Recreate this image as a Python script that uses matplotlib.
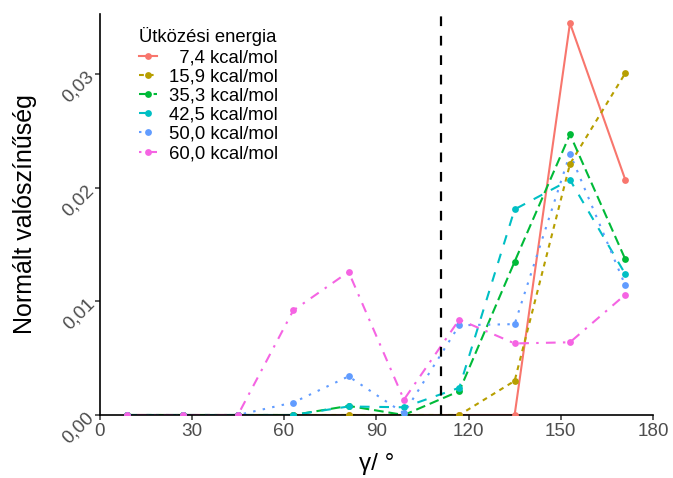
import matplotlib
matplotlib.use("Agg")
import matplotlib.pyplot as plt
from matplotlib.ticker import FixedLocator
from matplotlib.lines import Line2D

plt.rcParams['font.family'] = ['Liberation Sans', 'DejaVu Sans']

# Bin centres of the angle histogram (degrees)
angles = [9, 27, 45, 63, 81, 99, 117, 135, 153, 171]

# Normalised probability per collision energy
e_7_4 = [0, 0, 0, 0, 0, 0, 0, 0, 0.0345, 0.0207]
e_15_9 = [0, 0, 0, 0, 0, 0, 0, 0.0030, 0.0221, 0.0301]
e_35_3 = [0, 0, 0, 0, 0.0008, 0, 0.0021, 0.0135, 0.0247, 0.0137]
e_42_5 = [0, 0, 0, 0, 0.00075, 0.00068, 0.0024, 0.0181, 0.0207, 0.0124]
e_50_0 = [0, 0, 0, 0.0011, 0.0034, 0.00015, 0.0079, 0.0080, 0.0230, 0.0114]
e_60_0 = [0, 0, 0, 0.0092, 0.0126, 0.00135, 0.0084, 0.0063, 0.0064, 0.0106]

series = [e_7_4, e_15_9, e_35_3, e_42_5, e_50_0, e_60_0]
labels = ["  7,4 kcal/mol", "15,9 kcal/mol", "35,3 kcal/mol",
          "42,5 kcal/mol", "50,0 kcal/mol", "60,0 kcal/mol"]
legend_title = "Ütközési energia"

ref_angle = 111

x_ticks = [0, 30, 60, 90, 120, 150, 180]
y_ticks = [0.00, 0.01, 0.02, 0.03]
y_tick_labels = ["0,00", "0,01", "0,02", "0,03"]

colors = ["#F8766D", "#B79F00", "#00BA38", "#00BFC4", "#619CFF", "#F564E3"]
# ggplot-style line types (in units of the dash unit)
patterns = [None, (2, 2), (4, 2), (4, 4), (1, 3), (1, 3, 4, 3)]

LW = 1.5
UNIT = 1.75  # dash unit in points
MS = 4.9


def style(p):
    if p is None:
        return "-"
    return (0, tuple(v * UNIT / LW for v in p))


fig = plt.figure(figsize=(6.73, 4.78), dpi=100)
ax = fig.add_axes([99.5 / 673, 63 / 478, 553.5 / 673, 401 / 478])

for ys, c, p in zip(series, colors, patterns):
    ax.plot(angles, ys, color=c, lw=LW, linestyle=style(p),
            dash_capstyle="butt", zorder=2)

for ys, c in zip(series, colors):
    ax.plot(angles, ys, linestyle="none", marker="o", ms=MS,
            mec="none", mfc=c, zorder=3)

ax.axvline(ref_angle, color="black", lw=1.6,
           linestyle=(0, (4 * UNIT / 1.6, 4 * UNIT / 1.6)), zorder=4)

ax.set_xlim(0, 180)
ax.set_ylim(0, 0.0353)
ax.xaxis.set_major_locator(FixedLocator(x_ticks))
ax.set_xticklabels([str(v) for v in x_ticks])
ax.yaxis.set_major_locator(FixedLocator(y_ticks))
ax.set_yticklabels(y_tick_labels, rotation=45, ha="right", va="center",
                   rotation_mode="anchor")

for s in ["top", "right"]:
    ax.spines[s].set_visible(False)
for s in ["left", "bottom"]:
    ax.spines[s].set_linewidth(1.2)
    ax.spines[s].set_color("black")

ax.tick_params(axis="both", length=3.6, width=1.1, color="#333333",
               labelsize=13.6, labelcolor="#4D4D4D", pad=2.5)
ax.tick_params(axis="y", pad=2)

ax.set_xlabel("γ/ °", fontsize=17.5, labelpad=9)
ax.set_ylabel("Normált valószínűség", fontsize=18, labelpad=16)

# Legend keys: line plus point
keys = [Line2D([0], [0], color=c, lw=LW, linestyle=style(p), marker="o",
               ms=MS, mec="none", mfc=c) for c, p in zip(colors, patterns)]
leg = ax.legend(keys, labels, title=legend_title,
                loc="upper left", bbox_to_anchor=(0.072, 0.967),
                frameon=False, fontsize=13.3, title_fontsize=13.3,
                handlelength=0.95, handletextpad=0.65, labelspacing=0.12,
                borderpad=0, borderaxespad=0, numpoints=1,
                alignment="left")
leg._legend_box.sep = 2

fig.savefig("out.png", dpi=100)
